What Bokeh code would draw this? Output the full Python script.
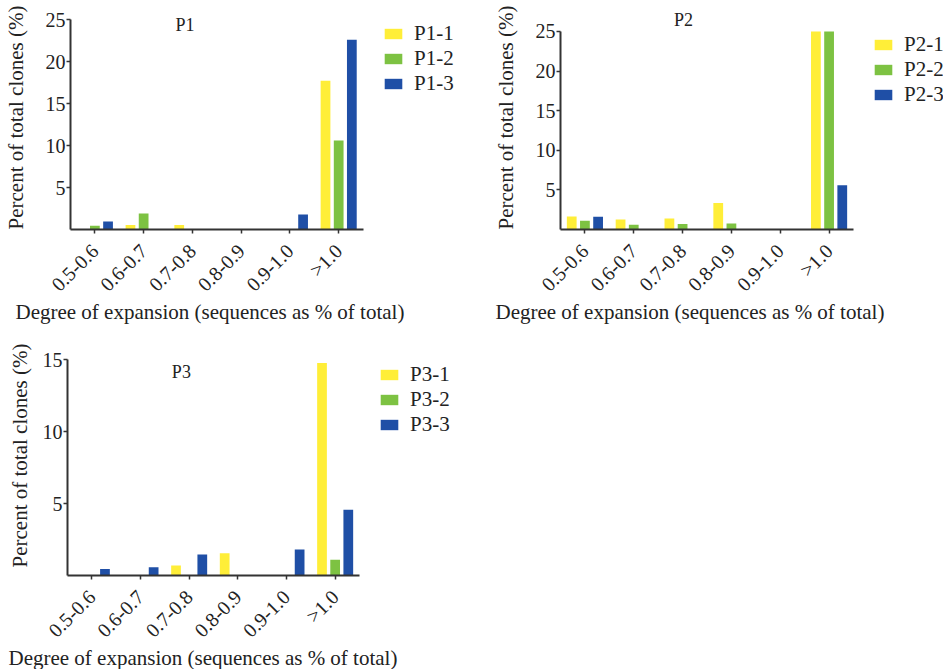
from bokeh.plotting import figure
from bokeh.layouts import column, row
from bokeh.models import (ColumnDataSource, Legend, LegendItem,
                          Label, Title, FixedTicker, Range1d)
from bokeh.transform import dodge
from bokeh.embed import file_html
from bokeh.resources import INLINE

categories = ["0.5-0.6", "0.6-0.7", "0.7-0.8", "0.8-0.9", "0.9-1.0", ">1.0"]

p1_1 = [0, 0.55, 0.55, 0, 0, 17.7]
p1_2 = [0.45, 1.9, 0, 0, 0, 10.6]
p1_3 = [0.95, 0, 0, 0, 1.8, 22.6]

p2_1 = [1.65, 1.25, 1.4, 3.35, 0, 25]
p2_2 = [1.1, 0.6, 0.7, 0.75, 0, 25]
p2_3 = [1.6, 0, 0, 0, 0, 5.6]

p3_1 = [0, 0, 0.7, 1.55, 0, 14.75]
p3_2 = [0, 0, 0, 0, 0, 1.1]
p3_3 = [0.46, 0.58, 1.46, 0, 1.8, 4.56]

y_ticks_25 = [5, 10, 15, 20, 25]
y_ticks_15 = [5, 10, 15]

COLORS = ["#FFEE38", "#7DC242", "#1F4FA6"]
FONT = "Liberation Serif"
XLABEL = "Degree of expansion (sequences as % of total)"
YLABEL = "Percent of total clones (%)"

# category centres on a numeric axis (one unit per category)
cat_pos = [i + 0.5 for i in range(len(categories))]


def make(name, series, ymax, ticks, width, height, bl, br, bb, x_end, y_end,
         title_xy, legend_xy, ylab_standoff, xlab_offset):
    src = ColumnDataSource(dict(x=cat_pos, s1=series[0], s2=series[1], s3=series[2]))
    p = figure(x_range=Range1d(0, x_end), y_range=Range1d(0, y_end),
               width=width, height=height, output_backend="svg", title=None,
               toolbar_location=None, min_border_left=bl, min_border_right=br,
               min_border_top=5, min_border_bottom=bb)
    p.outline_line_color = None
    p.xgrid.visible = False
    p.ygrid.visible = False
    p.background_fill_color = "white"

    rends = []
    for i, (col, off) in enumerate(zip(["s1", "s2", "s3"], [-0.27, 0.0, 0.27])):
        r = p.vbar(x=dodge("x", off), top=col, width=0.2,
                   source=src, fill_color=COLORS[i], line_color=None)
        rends.append(r)

    for ax in (p.xaxis[0], p.yaxis[0]):
        ax.axis_line_color = "#333333"
        ax.axis_line_width = 2
        ax.major_tick_line_color = "#333333"
        ax.major_tick_line_width = 1.5
        ax.major_tick_in = 0
        ax.major_tick_out = 4
        ax.minor_tick_line_color = None
        ax.major_label_text_color = "#222222"
        ax.major_label_text_font = FONT
        ax.axis_label_text_font = FONT
        ax.axis_label_text_font_style = "normal"
        ax.axis_label_text_color = "#222222"

    p.yaxis.bounds = (0, ymax)
    p.yaxis.ticker = FixedTicker(ticks=ticks)
    p.yaxis.major_label_text_font_size = "20px"
    p.yaxis.major_label_standoff = 1
    p.yaxis.axis_label = YLABEL
    p.yaxis.axis_label_text_font_size = "21px"
    p.yaxis.axis_label_standoff = ylab_standoff

    p.xaxis.bounds = (0, len(categories))
    p.xaxis.ticker = FixedTicker(ticks=cat_pos)
    p.xaxis.major_label_overrides = {pos: c for pos, c in zip(cat_pos, categories)}
    p.xaxis.major_label_text_font_size = "20px"
    p.xaxis.major_label_orientation = 0.785398
    p.xaxis.major_label_standoff = 14

    t = Title(text=XLABEL, align="left", offset=xlab_offset,
              text_font=FONT, text_font_size="21px", text_font_style="normal",
              text_color="#222222", standoff=-17)
    p.add_layout(t, "below")

    p.add_layout(Label(x=title_xy[0], y=title_xy[1], text=name, text_font=FONT,
                       text_font_size="18px", text_color="#222222",
                       text_align="center", text_baseline="middle"))

    items = [LegendItem(label=f"{name}-{k+1}", renderers=[r]) for k, r in enumerate(rends)]
    leg = Legend(items=items, location=legend_xy, orientation="vertical",
                 padding=0, margin=0, spacing=0,
                 glyph_width=22, glyph_height=13, label_standoff=10,
                 label_height=20, label_text_font=FONT, label_text_font_size="21px",
                 label_text_color="#222222", border_line_color=None,
                 background_fill_alpha=0)
    p.add_layout(leg, "center")
    return p


p1 = make("P1", [p1_1, p1_2, p1_3], 25, y_ticks_25, 480, 330, 68, 5, 101, 8.306, 26.667,
          (2.35, 24.3), (312, 133), 15, -55)
p2 = make("P2", [p2_1, p2_2, p2_3], 25, y_ticks_25, 463, 330, 80, 0, 100, 7.843, 28.27,
          (2.52, 26.4), (312, 122), 15, -65)
p3 = make("P3", [p3_1, p3_2, p3_3], 15, y_ticks_15, 480, 339, 67, 5, 94, 8.384, 16.667,
          (2.34, 14.1), (311, 138), 8, -59)

layout = column(row(p1, p2), p3)
open("out.html", "w").write(file_html(layout, INLINE))
